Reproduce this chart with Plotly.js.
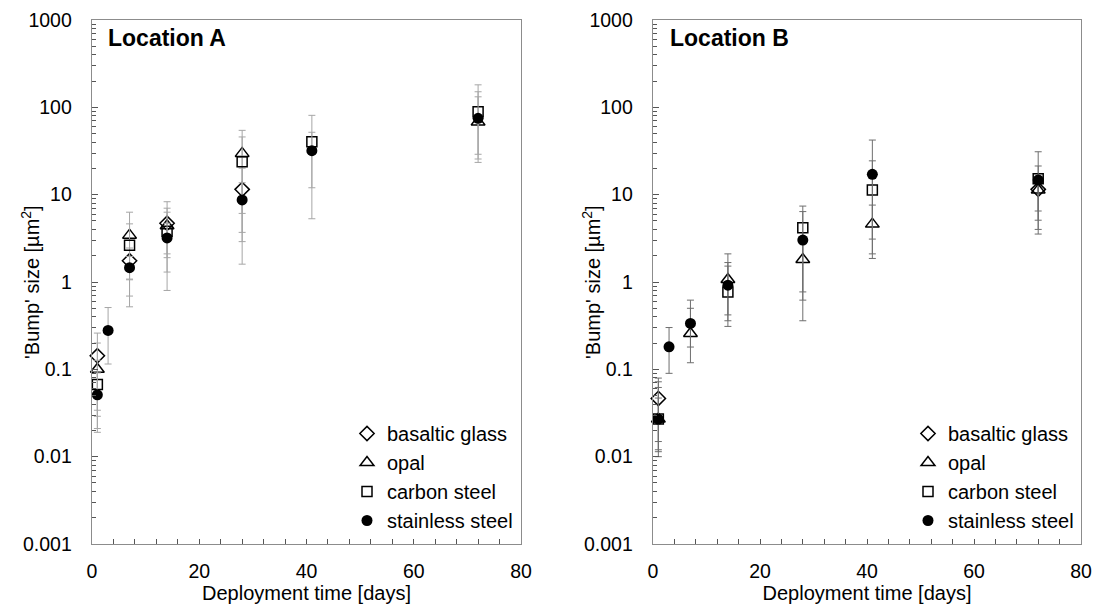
<!DOCTYPE html>
<html>
<head>
<meta charset="utf-8">
<script src="https://cdn.plot.ly/plotly-3.0.1.min.js"></script>
<style>html,body{margin:0;padding:0;background:#fff;}#chart{width:1103px;height:608px;}</style>
</head>
<body>
<div id="chart"></div>
<script>
// ---------- Data ----------
var seriesNames = ['basaltic glass', 'opal', 'carbon steel', 'stainless steel'];
var yTickVals = [0.001, 0.01, 0.1, 1, 10, 100, 1000];
var yTickText = ['0.001', '0.01', '0.1', '1', '10', '100', '1000'];
var xTickVals = [0, 20, 40, 60, 80];

// Location A
var aBasaltX = [1, 7, 14, 28];
var aBasaltY = [0.143, 1.75, 4.7, 11.5];
var aBasaltP = [0.117, 0.7, 3.6, 8.6];
var aBasaltM = [0.124, 0.67, 2.6, 8.6];

var aOpalX = [1, 7, 14, 28, 72];
var aOpalY = [0.1, 3.44, 4.4, 29.7, 68];
var aOpalP = [0.1, 2.86, 2.6, 24.8, 64];
var aOpalM = [0.066, 2.92, 3.1, 23.6, 39];

var aCarbonX = [1, 7, 14, 28, 41, 72];
var aCarbonY = [0.067, 2.63, 3.8, 23.8, 40.4, 89];
var aCarbonP = [0.06, 2.0, 2.5, 22, 40.6, 92];
var aCarbonM = [0.038, 1.94, 3.0, 22.2, 35.1, 65.6];

var aStainX = [1, 3, 7, 14, 28, 41, 72];
var aStainY = [0.051, 0.279, 1.46, 3.2, 8.7, 31.9, 74.8];
var aStainP = [0.04, 0.231, 0.5, 1.5, 5, 19.9, 76];
var aStainM = [0.03, 0.164, 0.4, 1.3, 5, 19.9, 49.2];

// Location B
var bBasaltX = [1, 72];
var bBasaltY = [0.0464, 11.5];
var bBasaltP = [0.033, 4];
var bBasaltM = [0.035, 5];

var bOpalX = [1, 7, 14, 28, 41, 72];
var bOpalY = [0.027, 0.257, 1.07, 1.81, 4.6, 11.3];
var bOpalP = [0.045, 0.243, 1.03, 1.5, 3, 5];
var bOpalM = [0.017, 0.138, 0.71, 1.45, 2.5, 6.2];

var bCarbonX = [1, 14, 28, 41, 72];
var bCarbonY = [0.027, 0.77, 4.18, 11.3, 15.2];
var bCarbonP = [0.035, 0.9, 3.22, 13.1, 6.1];
var bCarbonM = [0.015, 0.46, 3.56, 9.44, 11.66];

var bStainX = [1, 3, 7, 14, 28, 41, 72];
var bStainY = [0.0269, 0.181, 0.335, 0.92, 3.02, 17.1, 14.7];
var bStainP = [0.02, 0.12, 0.285, 0.6, 3.38, 25.1, 16.3];
var bStainM = [0.012, 0.091, 0.155, 0.5, 2.25, 14, 10.7];

// ---------- Styles ----------
var FONT = 'Liberation Sans, Arial, Helvetica, sans-serif';
var markerStyles = [
  {symbol: 'diamond-open', size: 11, color: '#000', line: {width: 1.5, color: '#000'}},
  {symbol: 'triangle-up-open', size: 12, color: '#000', line: {width: 1.5, color: '#000'}},
  {symbol: 'square-open', size: 10, color: '#000', line: {width: 1.5, color: '#000'}},
  {symbol: 'circle', size: 11, color: '#000', line: {width: 0}}
];

function mk(name, idx, x, y, p, m, xa, ya, leg, errColor) {
  return {
    type: 'scatter', mode: 'markers', name: name,
    x: x, y: y, xaxis: xa, yaxis: ya, legend: leg,
    marker: markerStyles[idx],
    error_y: {type: 'data', symmetric: false, array: p, arrayminus: m,
              color: errColor, thickness: 1, width: 3.5},
    cliponaxis: false
  };
}

var errA = '#a6a6a6', errB = '#6e6e6e';
var data = [
  mk(seriesNames[0], 0, aBasaltX, aBasaltY, aBasaltP, aBasaltM, 'x', 'y', 'legend', errA),
  mk(seriesNames[1], 1, aOpalX, aOpalY, aOpalP, aOpalM, 'x', 'y', 'legend', errA),
  mk(seriesNames[2], 2, aCarbonX, aCarbonY, aCarbonP, aCarbonM, 'x', 'y', 'legend', errA),
  mk(seriesNames[3], 3, aStainX, aStainY, aStainP, aStainM, 'x', 'y', 'legend', errA),
  mk(seriesNames[0], 0, bBasaltX, bBasaltY, bBasaltP, bBasaltM, 'x2', 'y2', 'legend2', errB),
  mk(seriesNames[1], 1, bOpalX, bOpalY, bOpalP, bOpalM, 'x2', 'y2', 'legend2', errB),
  mk(seriesNames[2], 2, bCarbonX, bCarbonY, bCarbonP, bCarbonM, 'x2', 'y2', 'legend2', errB),
  mk(seriesNames[3], 3, bStainX, bStainY, bStainP, bStainM, 'x2', 'y2', 'legend2', errB)
];

var W = 1103, H = 608, L = 92, R = 22, T = 20, B = 64;
var pw = W - L - R, ph = H - T - B;
function px2x(p) { return (p - L) / pw; }
function px2y(p) { return (H - B - p) / ph; }

function xAxis(domain, anchor) {
  return {
    domain: domain, anchor: anchor, range: [0, 80],
    tickmode: 'array', tickvals: xTickVals,
    ticks: 'inside', ticklen: 5, tickcolor: '#555', tickwidth: 1,
    minor: {dtick: 4, tick0: 0, ticks: 'inside', ticklen: 5, tickcolor: '#555', showgrid: false},
    showline: true, mirror: true, linecolor: '#8c8c8c', linewidth: 1.3,
    showgrid: false, zeroline: false, fixedrange: true,
    tickfont: {family: FONT, size: 19.5, color: '#000'},
    ticklabelstandoff: 9,
    title: {text: 'Deployment time [days]', font: {family: FONT, size: 20, color: '#000'}, standoff: 4}
  };
}
function yAxis(anchor) {
  return {
    domain: [0, 1], anchor: anchor, type: 'log', range: [-3, 3],
    tickmode: 'array', tickvals: yTickVals, ticktext: yTickText,
    ticks: 'inside', ticklen: 6, tickcolor: '#555', tickwidth: 1,
    minor: {dtick: 'D1', ticks: 'inside', ticklen: 4, tickcolor: '#555', showgrid: false},
    showline: true, mirror: true, linecolor: '#8c8c8c', linewidth: 1.3,
    showgrid: false, zeroline: false, fixedrange: true,
    tickfont: {family: FONT, size: 19.5, color: '#000'},
    ticklabelstandoff: 15
  };
}

var legBase = {
  xref: 'paper', yref: 'paper', xanchor: 'left', yanchor: 'bottom',
  font: {family: FONT, size: 20, color: '#000'},
  bgcolor: 'rgba(0,0,0,0)', borderwidth: 0, itemwidth: 30, traceorder: 'normal',
  itemclick: false, itemdoubleclick: false
};

var layout = {
  width: W, height: H,
  margin: {l: L, r: R, t: T, b: B, pad: 0},
  paper_bgcolor: '#fff', plot_bgcolor: '#fff',
  font: {family: FONT, color: '#000'},
  showlegend: true,
  xaxis: xAxis([0, px2x(521)], 'y'),
  yaxis: yAxis('x'),
  xaxis2: xAxis([px2x(653), 1], 'y2'),
  yaxis2: yAxis('x2'),
  legend: Object.assign({}, legBase, {x: px2x(347), y: px2y(540)}),
  legend2: Object.assign({}, legBase, {x: px2x(908), y: px2y(540)}),
  annotations: [
    {text: '<b>Location A</b>', xref: 'paper', yref: 'paper', x: px2x(106), y: px2y(38),
     xanchor: 'left', yanchor: 'middle', showarrow: false, font: {family: FONT, size: 23, color: '#000'}},
    {text: '<b>Location B</b>', xref: 'paper', yref: 'paper', x: px2x(668), y: px2y(38),
     xanchor: 'left', yanchor: 'middle', showarrow: false, font: {family: FONT, size: 23, color: '#000'}},
    {text: "'Bump' size [µm<sup>2</sup>]", xref: 'paper', yref: 'paper', x: px2x(30), y: 0.5,
     xanchor: 'center', yanchor: 'middle', textangle: -90, showarrow: false,
     font: {family: FONT, size: 20, color: '#000'}},
    {text: "'Bump' size [µm<sup>2</sup>]", xref: 'paper', yref: 'paper', x: px2x(591), y: 0.5,
     xanchor: 'center', yanchor: 'middle', textangle: -90, showarrow: false,
     font: {family: FONT, size: 20, color: '#000'}}
  ]
};

Plotly.newPlot('chart', data, layout, {displayModeBar: false, staticPlot: true});
</script>
</body>
</html>
